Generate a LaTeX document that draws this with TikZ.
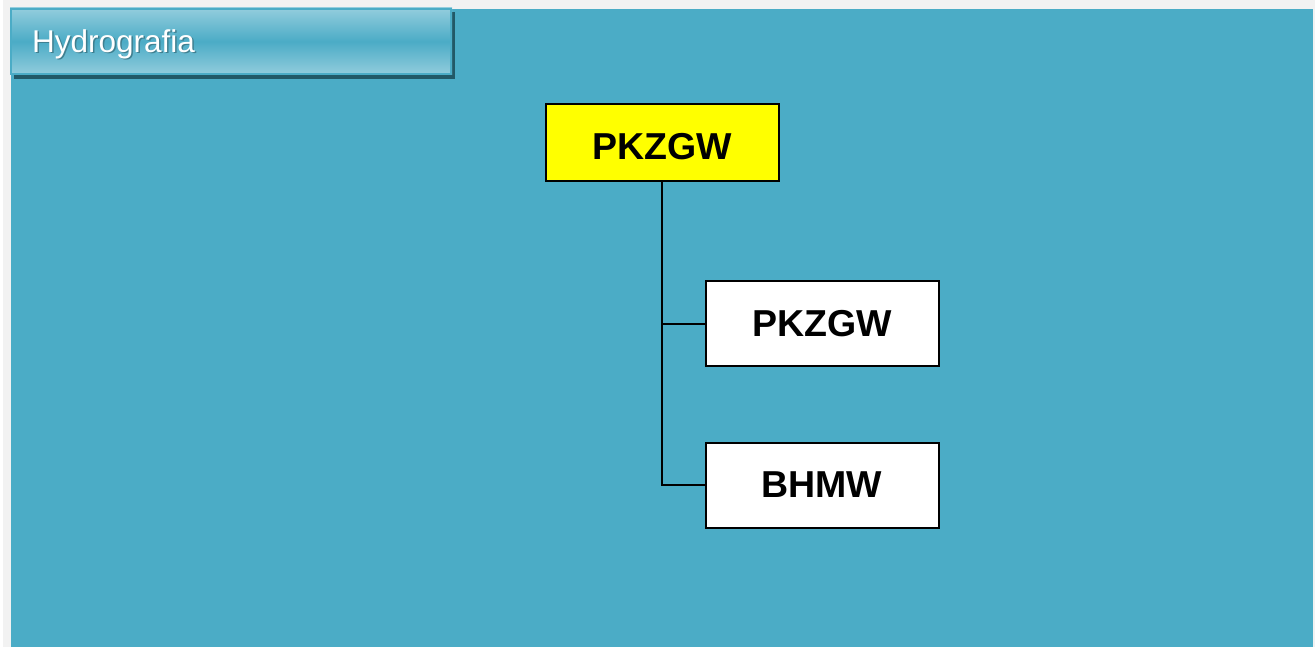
\documentclass[tikz,border=0pt]{standalone}
\usepackage{fontspec}
\setmainfont{Liberation Sans}
\definecolor{outerbg}{HTML}{F2F2F2}
\definecolor{panel}{HTML}{4BACC6}
\definecolor{hlight}{HTML}{93CDDD}
\definecolor{hshadow}{HTML}{215967}
\definecolor{tshadow}{HTML}{3F7F90}
\definecolor{rootfill}{HTML}{FFFF00}
\begin{document}
\begin{tikzpicture}[x=1pt,y=-1pt,
  orgbox/.style={draw=black, line width=2pt, minimum width=233pt, minimum height=77pt,
    inner sep=0pt, font=\fontsize{37.5}{40}\selectfont\bfseries, text=black},
  link/.style={draw=black, line width=2pt},
  hdrtext/.style={font=\fontsize{31.5}{34}\selectfont, anchor=base west, inner sep=0pt}]
  \useasboundingbox (0,0) rectangle (1315,647);
  \fill[outerbg] (0,0) rectangle (1315,647);
  \fill[white] (0,0) rectangle (3,647);
  \fill[panel] (11,9) rectangle (1313,647);
  % header
  \fill[hshadow] (14,12) rectangle (455,79);
  \shade[top color=hlight, bottom color=hlight, middle color=panel] (10,8) rectangle (452,75);
  \draw[panel, line width=2pt] (11,9) rectangle (451,74);
  \node[hdrtext, text=tshadow] (hdrs) at (33.5,54) {Hydrografia};
  \node[hdrtext, text=white] (hdr) at (32,52.5) {Hydrografia};
  % org chart
  \node[orgbox, fill=rootfill, text height=33pt, text depth=0pt] (root) at (662,143) {PKZGW};
  \node[orgbox, fill=white, minimum height=85pt] (c1) at (822,323.5) {PKZGW};
  \node[orgbox, fill=white, minimum height=85pt] (c2) at (822,485) {BHMW};
  \coordinate (bend) at (root.south |- c2.west);
  \draw[link] (root.south) -- (bend) -- (c2.west);
  \draw[link] (root.south |- c1.west) -- (c1.west);
\end{tikzpicture}
\end{document}
